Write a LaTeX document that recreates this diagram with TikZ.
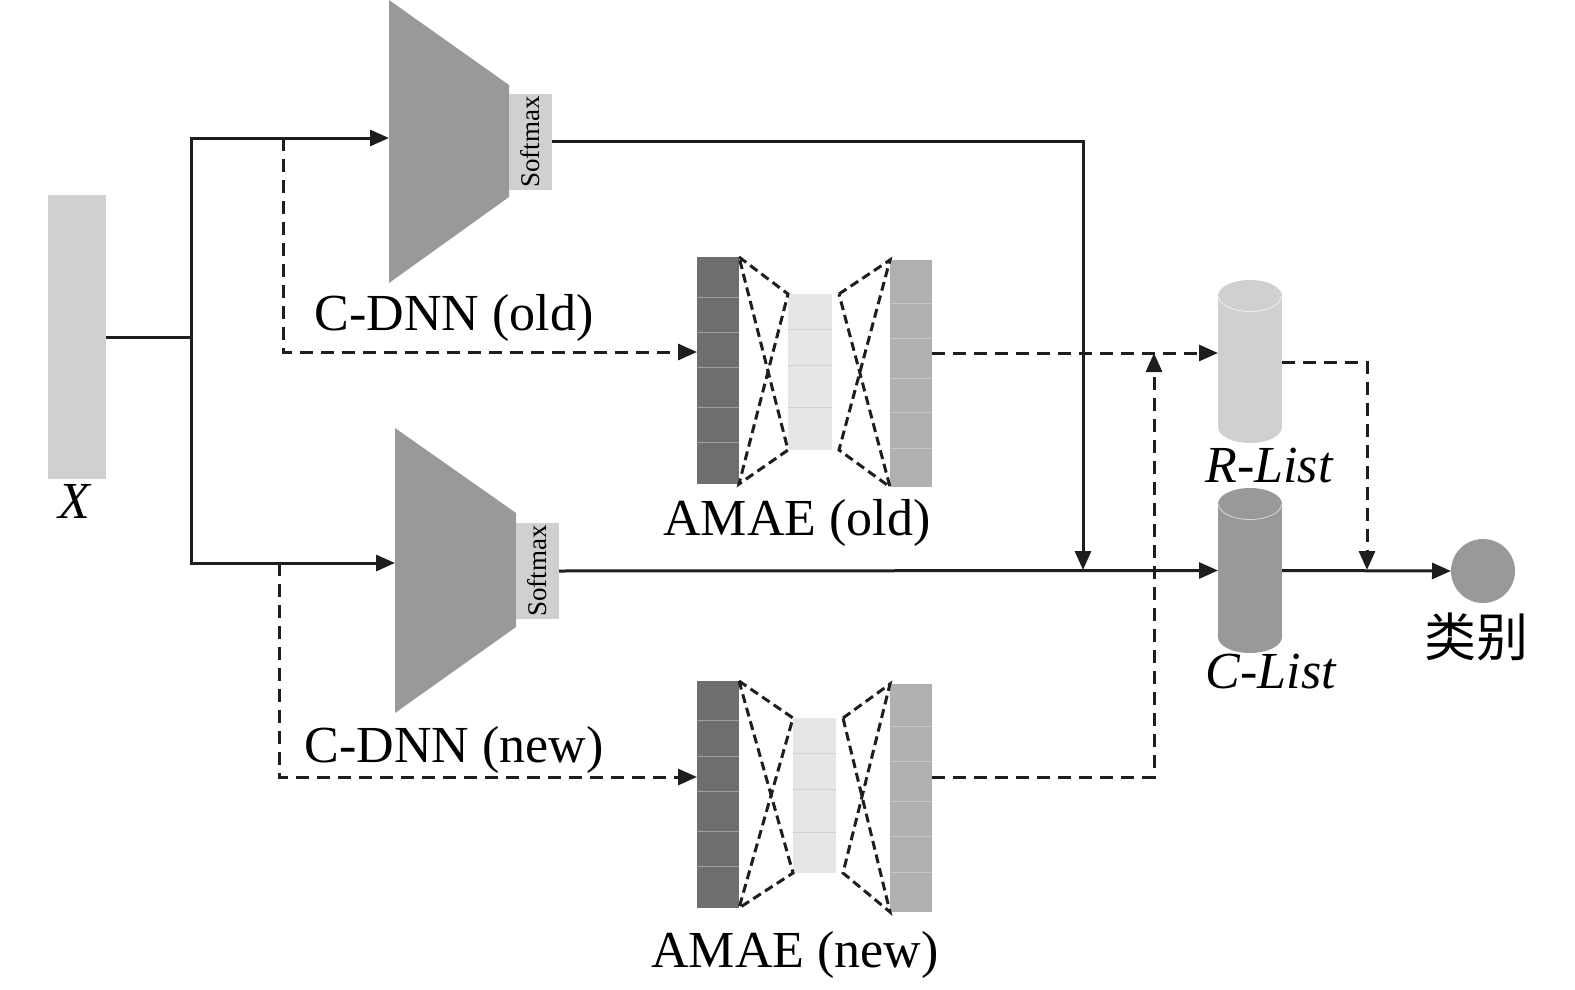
\documentclass[tikz,border=0pt]{standalone}
\usepackage{fontspec}
\setmainfont{Liberation Serif}
\newfontfamily\cjk{Noto Sans CJK SC}
\usetikzlibrary{arrows.meta}
\definecolor{cdark}{HTML}{6E6E6E}
\definecolor{cmid}{HTML}{999999}
\definecolor{clight}{HTML}{D0D0D0}
\definecolor{cvlight}{HTML}{E6E6E6}
\definecolor{cright}{HTML}{B0B0B0}
\definecolor{cline}{HTML}{1E1E1E}
\tikzset{
  plain/.style={line width=3pt, draw=cline},
  conn/.style={plain, -{Triangle[length=19pt,width=16pt]}},
  dconn/.style={conn, dash pattern=on 13pt off 8pt},
  wire/.style={line width=3pt, draw=cline, dash pattern=on 9pt off 5pt},
  block/.style={draw=none, inner sep=0pt, outer sep=0pt},
  lbl/.style={font=\fontsize{52pt}{60pt}\selectfont, anchor=base, inner sep=0pt},
  smax/.style={block, fill=clight, rotate=90, minimum width=96pt, minimum height=43pt,
     font=\fontsize{27pt}{30pt}\selectfont},
}
\begin{document}
\begin{tikzpicture}[x=1pt,y=-1pt]
\useasboundingbox (0,0) rectangle (1575,990);
% input
\node[block, fill=clight, minimum width=58pt, minimum height=284pt] (X) at (77,337) {};
\node[lbl] (Xl) at (74,518) {\itshape X};
% C-DNN old
\fill[cmid] (389,0) -- (509,85) -- (509,197) -- (389,283) -- cycle;
\coordinate (cdoin) at (389,138);
\node[smax] (smo) at (530.5,142) {Softmax};
\node[lbl] (cdol) at (454,330) {C-DNN (old)};
% C-DNN new
\fill[cmid] (395,428) -- (516,513) -- (516,627) -- (395,713) -- cycle;
\coordinate (cdnin) at (395,563);
\node[smax] (smn) at (537.5,571) {Softmax};
\node[lbl] (cdnl) at (454,762) {C-DNN (new)};
% AMAE old
\node[block, fill=cdark, minimum width=42pt, minimum height=227pt] (aoL) at (718,370.5) {};
\node[block, fill=cvlight, minimum width=44pt, minimum height=156pt] (aoM) at (810,372) {};
\node[block, fill=cright, minimum width=42pt, minimum height=227pt] (aoR) at (911,373.5) {};
\foreach \y in {297,332,367,407,442} \draw[line width=1pt, gray!75] (697,\y) -- (739,\y);
\foreach \y in {329,365,407} \draw[line width=1pt, gray!35] (788,\y) -- (832,\y);
\foreach \y in {303,338,378,412,448} \draw[line width=1pt, gray!45] (890,\y) -- (932,\y);
\draw[wire] (aoL.north east) -- (aoM.north west) -- (aoL.south east) -- (aoM.south west) -- (aoL.north east);
\draw[wire] ([xshift=7pt]aoM.north east) -- (aoR.north west) -- ([xshift=7pt]aoM.south east) -- (aoR.south west) -- cycle;
\node[lbl] (aol) at (797,535) {AMAE (old)};
% AMAE new
\node[block, fill=cdark, minimum width=42pt, minimum height=227pt] (anL) at (718,794.5) {};
\node[block, fill=cvlight, minimum width=43pt, minimum height=155pt] (anM) at (814.5,795.5) {};
\node[block, fill=cright, minimum width=42pt, minimum height=228pt] (anR) at (911,798) {};
\foreach \y in {720,756,791,831,866} \draw[line width=1pt, gray!75] (697,\y) -- (739,\y);
\foreach \y in {753,789,832} \draw[line width=1pt, gray!35] (793,\y) -- (836,\y);
\foreach \y in {726,761,801,836,872} \draw[line width=1pt, gray!45] (890,\y) -- (932,\y);
\draw[wire] (anL.north east) -- (anM.north west) -- (anL.south east) -- (anM.south west) -- (anL.north east);
\draw[wire] ([xshift=7pt]anM.north east) -- (anR.north west) -- ([xshift=7pt]anM.south east) -- (anR.south west) -- cycle;
\node[lbl] (anl) at (795,967) {AMAE (new)};
% cylinders
\node[block, minimum width=64pt, minimum height=163pt] (RL) at (1250,361.5) {};
\fill[clight] (1218,296) rectangle (1282,427);
\fill[clight] (1250,427) ellipse [x radius=32, y radius=16];
\fill[clight] (1250,296) ellipse [x radius=32, y radius=16];
\begin{scope}
\clip (1210,296) rectangle (1290,320);
\draw[line width=0.8pt, gray!12] (1250,296) ellipse [x radius=31.5, y radius=15.5];
\end{scope}
\node[lbl, font=\fontsize{52pt}{60pt}\selectfont\itshape] (RLl) at (1269,482) {R-List};
\node[block, minimum width=64pt, minimum height=165pt] (CL) at (1250,570.5) {};
\fill[cmid] (1218,504) rectangle (1282,637);
\fill[cmid] (1250,637) ellipse [x radius=32, y radius=16];
\fill[cmid] (1250,504) ellipse [x radius=32, y radius=16];
\begin{scope}
\clip (1210,504) rectangle (1290,528);
\draw[line width=0.8pt, gray!30] (1250,504) ellipse [x radius=31.5, y radius=15.5];
\end{scope}
\node[lbl, font=\fontsize{52pt}{60pt}\selectfont\itshape] (CLl) at (1271,688) {C-List};
% output
\node[circle, fill=cmid, minimum size=64pt, inner sep=0pt, outer sep=0pt] (out) at (1483,571) {};
\node[lbl, font=\fontsize{52pt}{60pt}\selectfont\cjk] (outl) at (1476,656) {类别};
% connectors
\coordinate (j0) at (191,337);
\coordinate (d1) at (283,138);
\coordinate (d2) at (279,563);
\coordinate (aoin) at (697,352);
\coordinate (anin) at (697,777);
\coordinate (aoout) at (932,353);
\coordinate (anout) at (932,777);
\coordinate (rlin) at (1218,353);
\coordinate (up) at (1154,353);
\coordinate (down) at (1083,570);
\coordinate (rlout) at (1282,362);
\coordinate (merge) at (1367,570);
\draw[plain] (X.east |- j0) -- (j0);
\draw[conn] (j0) |- (cdoin);
\draw[conn] (j0) |- (cdnin);
\draw[dconn] (d1) |- (aoin);
\draw[dconn] (d2) |- (anin);
\draw[conn] (smo.south |- 0,141) -| (down);
\draw[conn] (smn.south) -- (CL.west);
\draw[dconn] (aoout) -- (rlin);
\draw[dconn] (anout) -| (up);
\draw[dconn] (rlout) -| (merge);
\draw[conn] (CL.east) -- (out.west);
\end{tikzpicture}
\end{document}
